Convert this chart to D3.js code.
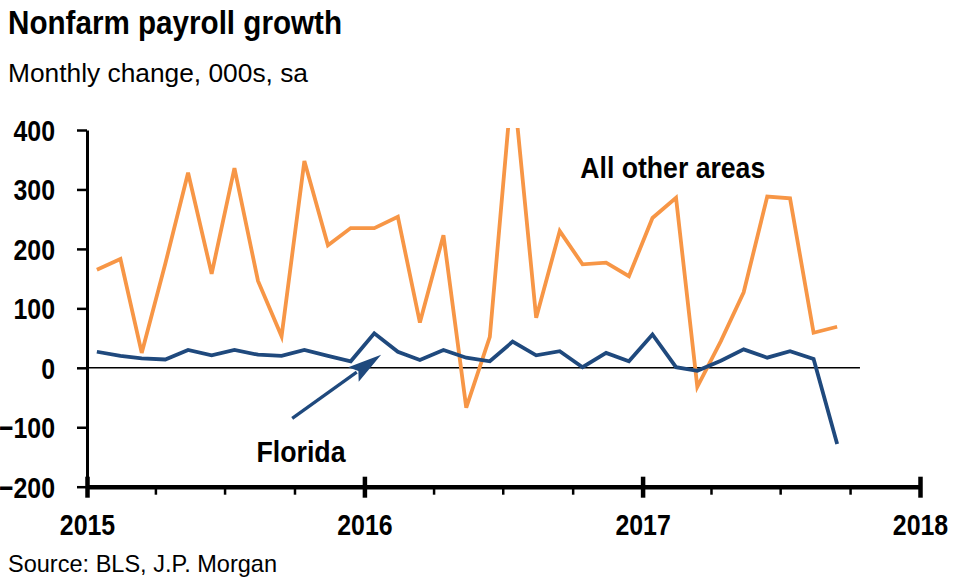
<!DOCTYPE html>
<html>
<head>
<meta charset="utf-8">
<script src="https://cdn.jsdelivr.net/npm/d3@7"></script>
<style>
  html, body { margin: 0; padding: 0; background: #fff; }
  svg { display: block; font-family: "Liberation Sans", Arial, sans-serif; }
</style>
</head>
<body>
<svg id="chart" width="960" height="584"></svg>
<script>
// ---- Data ----
const months = [
  "2015-01","2015-02","2015-03","2015-04","2015-05","2015-06","2015-07","2015-08","2015-09","2015-10","2015-11","2015-12",
  "2016-01","2016-02","2016-03","2016-04","2016-05","2016-06","2016-07","2016-08","2016-09","2016-10","2016-11","2016-12",
  "2017-01","2017-02","2017-03","2017-04","2017-05","2017-06","2017-07","2017-08","2017-09"
];
const allOtherAreas = [165, 183, 25, 175, 328, 158, 336, 146, 53, 348, 206, 235, 235, 254, 76, 223, -67, 52, 490, 84, 230, 174, 177, 154, 252, 286, -32, 45, 127, 288, 285, 59, 69];
const florida = [27, 20, 16, 14, 30, 21, 30, 22, 20, 30, 20, 11, 58, 27, 13, 30, 17, 11, 44, 21, 28, 1, 25, 11, 56, 1, -5, 12, 31, 17, 28, 15, -128];
const yTickValues = [-200, -100, 0, 100, 200, 300, 400];
const yearTicks = ["2015", "2016", "2017", "2018"];
const titleText = "Nonfarm payroll growth";
const subtitleText = "Monthly change, 000s, sa";
const sourceText = "Source: BLS, J.P. Morgan";

// ---- Setup ----
const svg = d3.select("#chart");
const parseMonth = s => { const [y, m] = s.split("-").map(Number); return new Date(y, m - 1, 14); };
const dates = months.map(parseMonth);

const x = d3.scaleTime()
  .domain([new Date(2015, 0, 1), new Date(2018, 0, 1)])
  .range([87, 920]);
const y = d3.scaleLinear().domain([-200, 400]).range([486.7, 130]);

const ORANGE = "#F79646";
const BLUE = "#1F497D";

function condense(sel, factor) {
  sel.each(function () {
    const w = this.getComputedTextLength();
    d3.select(this).attr("textLength", w * factor).attr("lengthAdjust", "spacingAndGlyphs");
  });
}

// ---- Titles ----
svg.append("text").attr("x", 8).attr("y", 33.5).attr("font-size", 32.5).attr("font-weight", "bold")
  .attr("fill", "#000").text(titleText)
  .attr("textLength", 334).attr("lengthAdjust", "spacingAndGlyphs");
svg.append("text").attr("x", 8).attr("y", 81.5).attr("font-size", 26)
  .attr("fill", "#000").text(subtitleText)
  .attr("textLength", 300).attr("lengthAdjust", "spacingAndGlyphs");
svg.append("text").attr("x", 8).attr("y", 572).attr("font-size", 24)
  .attr("fill", "#000").text(sourceText)
  .attr("textLength", 269).attr("lengthAdjust", "spacingAndGlyphs");

// ---- Clip ----
svg.append("defs").append("clipPath").attr("id", "plotClip")
  .append("rect").attr("x", 80).attr("y", y(400) - 2).attr("width", 860).attr("height", 400);

// ---- Zero line ----
svg.append("line")
  .attr("x1", x.range()[0]).attr("x2", x(new Date(2017, 9, 14)))
  .attr("y1", y(0)).attr("y2", y(0))
  .attr("stroke", "#000").attr("stroke-width", 1.5);

// ---- Lines ----
const line = d3.line().x((d, i) => x(dates[i])).y(d => y(d));
const g = svg.append("g").attr("clip-path", "url(#plotClip)");
g.append("path").datum(allOtherAreas).attr("d", line)
  .attr("fill", "none").attr("stroke", ORANGE).attr("stroke-width", 3.8).attr("stroke-linejoin", "miter");
g.append("path").datum(florida).attr("d", line)
  .attr("fill", "none").attr("stroke", BLUE).attr("stroke-width", 3.8).attr("stroke-linejoin", "miter");

// ---- Y axis ----
const yAxis = d3.axisLeft(y).tickValues(yTickValues).tickSize(10).tickPadding(22).tickSizeOuter(0)
  .tickFormat(d3.format("d"));
const yg = svg.append("g").attr("transform", `translate(${x.range()[0]},0)`).call(yAxis);
yg.select(".domain").attr("stroke", "#000").attr("stroke-width", 3);
yg.selectAll(".tick line").attr("stroke", "#000").attr("stroke-width", 2.5);
yg.selectAll(".tick text").attr("font-size", 30).attr("font-weight", "bold").attr("fill", "#000")
  .attr("font-family", "Liberation Sans, Arial, sans-serif").attr("dy", "0.35em");
condense(yg.selectAll(".tick text"), 0.83);

// ---- X axis ----
const quarterTicks = d3.timeMonth.every(3).range(new Date(2015, 0, 1), new Date(2018, 0, 2));
const xMinor = d3.axisBottom(x).tickValues(quarterTicks).tickSize(8).tickFormat("").tickSizeOuter(0);
const xg0 = svg.append("g").attr("transform", `translate(0,${y(-200)})`).call(xMinor);
xg0.select(".domain").attr("stroke", "#000").attr("stroke-width", 4.5);
xg0.selectAll(".tick line").attr("stroke", "#000").attr("stroke-width", 2.5);

const yearDates = yearTicks.map(s => new Date(+s, 0, 1));
const xMajor = d3.axisBottom(x).tickValues(yearDates).tickSize(11).tickPadding(16)
  .tickFormat((d, i) => yearTicks[i]).tickSizeOuter(0);
const xg = svg.append("g").attr("transform", `translate(0,${y(-200)})`).call(xMajor);
xg.select(".domain").remove();
xg.selectAll(".tick line").attr("y1", -10).attr("stroke", "#000").attr("stroke-width", 4.5);
xg.selectAll(".tick text").attr("font-size", 30).attr("font-weight", "bold").attr("fill", "#000")
  .attr("font-family", "Liberation Sans, Arial, sans-serif");
condense(xg.selectAll(".tick text"), 0.83);

// ---- Annotations ----
svg.append("text")
  .attr("x", x(new Date(2016, 9, 11))).attr("y", y(320))
  .attr("font-size", 29).attr("font-weight", "bold").attr("fill", "#000")
  .text("All other areas").attr("textLength", 185).attr("lengthAdjust", "spacingAndGlyphs");
svg.append("text")
  .attr("x", x(new Date(2015, 7, 12))).attr("y", y(-159))
  .attr("font-size", 29).attr("font-weight", "bold").attr("fill", "#000")
  .text("Florida").attr("textLength", 89).attr("lengthAdjust", "spacingAndGlyphs");

// Arrow
const a0 = [x(new Date(2015, 8, 28)), y(-85)];
const a1 = [x(new Date(2016, 0, 23)), y(22)];
const dx = a1[0] - a0[0], dy = a1[1] - a0[1];
const len = Math.hypot(dx, dy);
const ux = dx / len, uy = dy / len, nx = -uy, ny = ux;
const headLen = 34, headW = 9;
const base = [a1[0] - ux * headLen, a1[1] - uy * headLen];
svg.append("line")
  .attr("x1", a0[0]).attr("y1", a0[1]).attr("x2", base[0] + ux * 4).attr("y2", base[1] + uy * 4)
  .attr("stroke", BLUE).attr("stroke-width", 3.2);
svg.append("path")
  .attr("d", `M${a1[0]},${a1[1]} L${base[0] + nx * headW},${base[1] + ny * headW} L${base[0] + ux * 6},${base[1] + uy * 6} L${base[0] - nx * headW},${base[1] - ny * headW} Z`)
  .attr("fill", BLUE);
</script>
</body>
</html>
